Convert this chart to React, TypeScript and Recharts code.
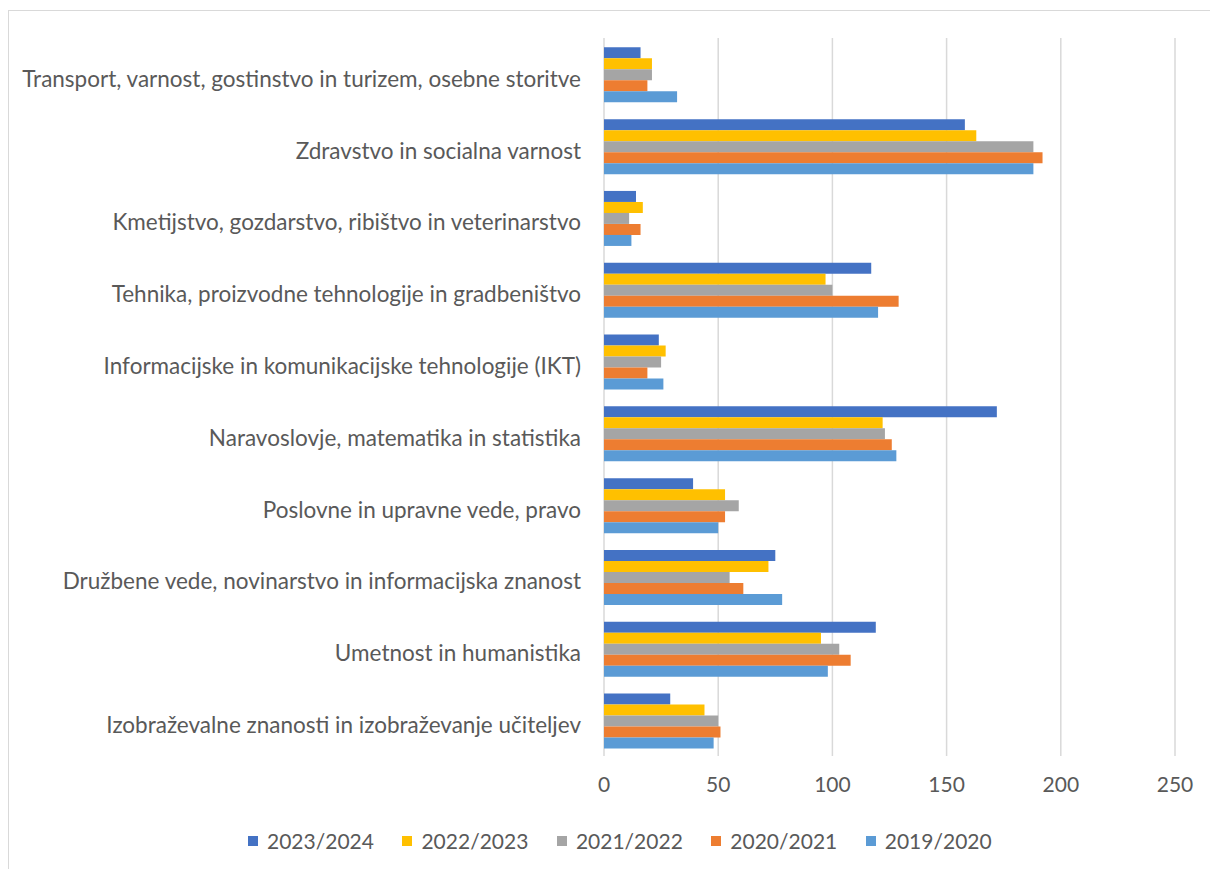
import { BarChart, Bar, XAxis, YAxis, CartesianGrid } from "recharts";

const categories = [
  "Transport, varnost, gostinstvo in turizem, osebne storitve",
  "Zdravstvo in socialna varnost",
  "Kmetijstvo, gozdarstvo, ribištvo in veterinarstvo",
  "Tehnika, proizvodne tehnologije in gradbeništvo",
  "Informacijske in komunikacijske tehnologije (IKT)",
  "Naravoslovje, matematika in statistika",
  "Poslovne in upravne vede, pravo",
  "Družbene vede, novinarstvo in informacijska znanost",
  "Umetnost in humanistika",
  "Izobraževalne znanosti in izobraževanje učiteljev",
];

const y2023 = [16, 158, 14, 117, 24, 172, 39, 75, 119, 29];
const y2022 = [21, 163, 17, 97, 27, 122, 53, 72, 95, 44];
const y2021 = [21, 188, 11, 100, 25, 123, 59, 55, 103, 50];
const y2020 = [19, 192, 16, 129, 19, 126, 53, 61, 108, 51];
const y2019 = [32, 188, 12, 120, 26, 128, 50, 78, 98, 48];

const xTicks = [0, 50, 100, 150, 200, 250];

const series = [
  { key: "2023/2024", values: y2023, color: "#4472C4" },
  { key: "2022/2023", values: y2022, color: "#FFC000" },
  { key: "2021/2022", values: y2021, color: "#A5A5A5" },
  { key: "2020/2021", values: y2020, color: "#ED7D31" },
  { key: "2019/2020", values: y2019, color: "#5B9BD5" },
];

const data = categories.map((name, i) => {
  const row: Record<string, string | number> = { name };
  series.forEach((s) => { row[s.key] = s.values[i]; });
  return row;
});

const FONT = "Lato, 'Liberation Sans', sans-serif";
const TEXT = "#595959";

// legend drawn by hand, Excel-style small squares
function LegendRow() {
  return (
    <div style={{ position: "absolute", left: 248, top: 828, display: "flex", gap: 28.5, fontFamily: FONT, fontSize: 21, color: TEXT }}>
      {series.map((s) => (
        <div key={s.key} style={{ display: "flex", alignItems: "center", gap: 9 }}>
          <span style={{ width: 10, height: 10, background: s.color, display: "inline-block" }} />
          <span>{s.key}</span>
        </div>
      ))}
    </div>
  );
}

export default function App() {
  return (
    <div style={{ position: "absolute", left: 0, top: 0, width: 1210, height: 869, overflow: "hidden", background: "#fff" }}>
      <div style={{ position: "absolute", left: 8, top: 10, width: 1260, height: 900, border: "1.5px solid #d9d9d9" }} />
      <div style={{ position: "absolute", left: 0, top: 0 }}>
        <BarChart
          width={1210}
          height={869}
          data={data}
          layout="vertical"
          margin={{ top: 38, right: 35, bottom: 73, left: 0 }}
          barCategoryGap="13%"
          barGap={0}
        >
          <CartesianGrid horizontal={false} stroke="#d9d9d9" strokeWidth={1.5} />
          <XAxis
            type="number"
            domain={[0, 250]}
            ticks={xTicks}
            height={40}
            axisLine={false}
            tickLine={false}
            tickMargin={15}
            tick={{ fill: TEXT, fontSize: 21, fontFamily: FONT }}
          />
          <YAxis
            type="category"
            dataKey="name"
            width={604}
            interval={0}
            axisLine={false}
            tickLine={false}
            tickSize={0}
            tickMargin={23}
            tick={{ fill: TEXT, fontSize: 22.5, fontFamily: FONT, dy: 5 }}
          />
          {series.map((s) => (
            <Bar key={s.key} dataKey={s.key} fill={s.color} isAnimationActive={false} />
          ))}
        </BarChart>
      </div>
      <LegendRow />
    </div>
  );
}
